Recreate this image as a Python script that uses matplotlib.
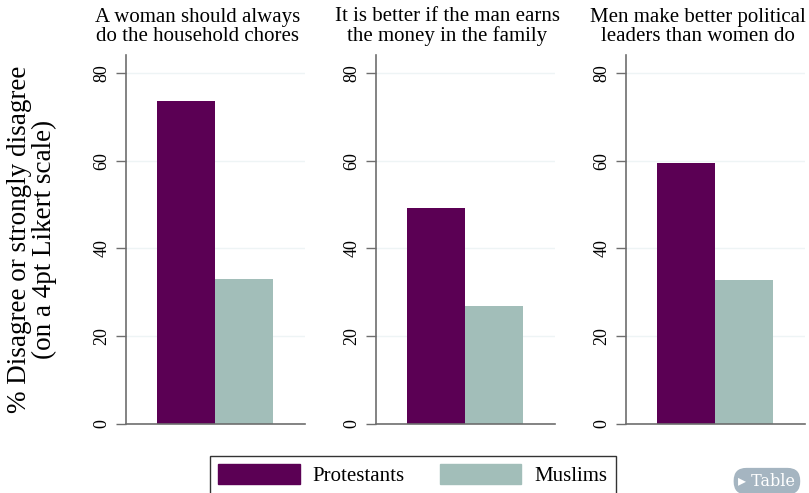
import matplotlib.pyplot as plt
from matplotlib.patches import Patch

plt.rcParams['font.family'] = ['Liberation Serif', 'DejaVu Serif']

titles = [
    'A woman should always\ndo the household chores',
    'It is better if the man earns\nthe money in the family',
    'Men make better political\nleaders than women do',
]
groups = ['Protestants', 'Muslims']
protestants = [73.6, 49.2, 59.5]
muslims = [33.0, 26.9, 32.8]

purple = '#5b0054'
sage = '#a2beb9'
axis_grey = '#6e6e6e'

fig = plt.figure(figsize=(8.09, 4.93), dpi=100)
lefts = [0.1557, 0.4648, 0.7738]

for i, left in enumerate(lefts):
    ax = fig.add_axes([left, 0.140, 0.221, 0.748])
    ax.bar([0.5], [protestants[i]], width=1.0, color=purple)
    ax.bar([1.5], [muslims[i]], width=1.0, color=sage)
    ax.set_xlim(-0.534, 2.55)
    ax.set_ylim(0, 84)
    ax.set_yticks([0, 20, 40, 60, 80])
    ax.set_xticks([])
    ax.yaxis.grid(True, color='#eef4f5', linewidth=1.0)
    ax.set_axisbelow(True)
    for s in ['top', 'right']:
        ax.spines[s].set_visible(False)
    for s in ['left', 'bottom']:
        ax.spines[s].set_color(axis_grey)
        ax.spines[s].set_linewidth(1.2)
    ax.tick_params(axis='y', direction='out', length=7, width=1.0,
                   color=axis_grey, labelsize=13, pad=4)
    for lab in ax.get_yticklabels():
        lab.set_rotation(90)
        lab.set_va('center')
    ax.text(0.40, 1.025, titles[i], transform=ax.transAxes, ha='center',
            va='bottom', fontsize=15, linespacing=1.0)

fig.text(0.040, 0.515, '% Disagree or strongly disagree\n(on a 4pt Likert scale)',
         rotation=90, ha='center', va='center', fontsize=19.5, linespacing=1.0)

handles = [Patch(facecolor=purple, edgecolor=purple),
           Patch(facecolor=sage, edgecolor=sage)]
leg = fig.legend(handles, groups, loc='upper left', bbox_to_anchor=(0.2596, 0.075),
                 ncol=2, frameon=True, fancybox=False, fontsize=15,
                 handlelength=3.9, handleheight=1.06, columnspacing=1.7,
                 borderpad=0.4, handletextpad=0.62, borderaxespad=0)
leg.get_frame().set_edgecolor('black')
leg.get_frame().set_linewidth(1.0)

fig.text(0.948, 0.024, '\u25b8 Table', ha='center', va='center', fontsize=11.5,
         color='white', family=['DejaVu Serif'],
         bbox=dict(boxstyle='round,pad=0.3,rounding_size=0.8',
                   facecolor='#a5b5c1', edgecolor='none'))

fig.savefig('out.png', dpi=100)
